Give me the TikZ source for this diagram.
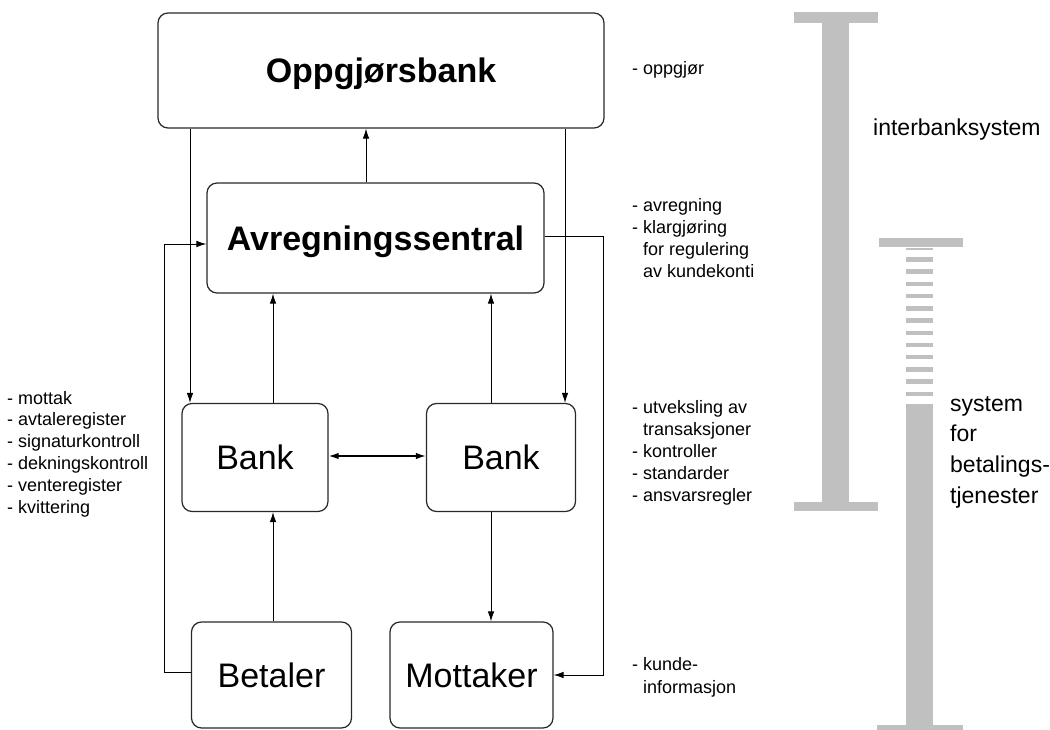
\documentclass[tikz,border=0pt]{standalone}
\usepackage{fontspec}
\setmainfont{Liberation Sans}
\usetikzlibrary{arrows.meta}
\definecolor{barg}{RGB}{192,192,192}
\definecolor{boxline}{RGB}{40,40,40}
\begin{document}
\begin{tikzpicture}[x=1pt,y=-1pt,
  box/.style={draw=boxline, line width=1.2pt, rounded corners=10pt, inner sep=0pt,
    font=\fontsize{34}{40}\selectfont, text height=24.3pt, text depth=0pt},
  bigbox/.style={box, font=\fontsize{34}{40}\selectfont\bfseries},
  arr/.style={line width=0.9pt, -{Latex[length=10pt,width=6.5pt]}},
  darr/.style={line width=1.5pt, {Latex[length=10pt,width=6.5pt]}-{Latex[length=10pt,width=6.5pt]}},
  note/.style={anchor=base west, inner sep=0pt, font=\fontsize{18}{22}\selectfont},
  sysl/.style={anchor=base west, inner sep=0pt, font=\fontsize{23}{28}\selectfont},
  bar/.style={fill=barg, draw=none}]
\useasboundingbox[fill=white] (0,0) rectangle (1050,730);

% boxes
\node[bigbox, minimum width=446pt, minimum height=115pt] (Oppg) at (381,70.5) {Oppgjørsbank};
\node[bigbox, minimum width=337pt, minimum height=110pt] (Avr) at (375.5,238) {Avregningssentral};
\node[box, minimum width=146pt, minimum height=108pt] (BankL) at (255,457.5) {Bank};
\node[box, minimum width=149pt, minimum height=108pt] (BankR) at (501,457.5) {Bank};
\node[box, minimum width=160pt, minimum height=106pt] (Betaler) at (271.5,675) {Betaler};
\node[box, minimum width=163pt, minimum height=106pt] (Mottaker) at (471.5,675) {Mottaker};

% helper coordinates
\coordinate (xA) at (366,0);
\coordinate (xL) at (190,0);
\coordinate (xR) at (565,0);
\coordinate (xBL) at (273,0);
\coordinate (xBR) at (491,0);
\coordinate (xLL) at (164,0);
\coordinate (xRR) at (603,0);
\coordinate (yA1) at (0,244);
\coordinate (yA2) at (0,236);
\coordinate (yB) at (0,456);
\coordinate (yBet) at (0,672);
\coordinate (yMot) at (0,675);

% connectors
\draw[arr] (Avr.north -| xA) -- (Oppg.south -| xA);
\draw[arr] (Oppg.south -| xL) -- (BankL.north -| xL);
\draw[arr] (Oppg.south -| xR) -- (BankR.north -| xR);
\draw[arr] (BankL.north -| xBL) -- (Avr.south -| xBL);
\draw[arr] (BankR.north -| xBR) -- (Avr.south -| xBR);
\draw[darr] (BankL.east |- yB) -- (BankR.west |- yB);
\draw[arr] (Betaler.north -| xBL) -- (BankL.south -| xBL);
\draw[arr] (BankR.south -| xBR) -- (Mottaker.north -| xBR);
\draw[arr] (Betaler.west |- yBet) -- (xLL |- yBet) -- (xLL |- yA1) -- (Avr.west |- yA1);
\draw[arr] (Avr.east |- yA2) -- (xRR |- yA2) -- (xRR |- yMot) -- (Mottaker.east |- yMot);

% left notes
\foreach \t [count=\i from 0] in {- mottak, - avtaleregister, - signaturkontroll, - dekningskontroll, - venteregister, - kvittering}
  \node[note] (left\i) at (7,404+21.8*\i) {\t};

% right notes
\node[note] (n1) at (632,75) {- oppgjør};
\node[note] (n2) at (632,212) {- avregning};
\node[note] (n3) at (632,234) {- klargjøring};
\node[note] (n4) at (643,256) {for regulering};
\node[note] (n5) at (643,278) {av kundekonti};
\node[note] (n6) at (632,413) {- utveksling av};
\node[note] (n7) at (643,435) {transaksjoner};
\node[note] (n8) at (632,457) {- kontroller};
\node[note] (n9) at (632,479) {- standarder};
\node[note] (n10) at (632,501) {- ansvarsregler};
\node[note] (n11) at (632,670) {- kunde-};
\node[note] (n12) at (643,693) {informasjon};

% system bars
\fill[bar] (794,12) rectangle (878,23);
\fill[bar] (822,23) rectangle (849,502);
\fill[bar] (794,502) rectangle (878,511);

\fill[bar] (879,238) rectangle (963,247);
\fill[bar] (906,248) rectangle (933,250.5);
\foreach \k in {0,...,11}
  \fill[bar] (906,257.3+12.2*\k) rectangle (933,261.7+12.2*\k);
\fill[bar] (906,404) rectangle (933,725);
\fill[bar] (877,725) rectangle (963,730);

\node[sysl] (s1) at (873,136) {interbanksystem};
\node[sysl] (s2) at (950,411) {system};
\node[sysl] (s3) at (950,441.7) {for};
\node[sysl] (s4) at (950,472.4) {betalings-};
\node[sysl] (s5) at (950,503.1) {tjenester};
\end{tikzpicture}
\end{document}
